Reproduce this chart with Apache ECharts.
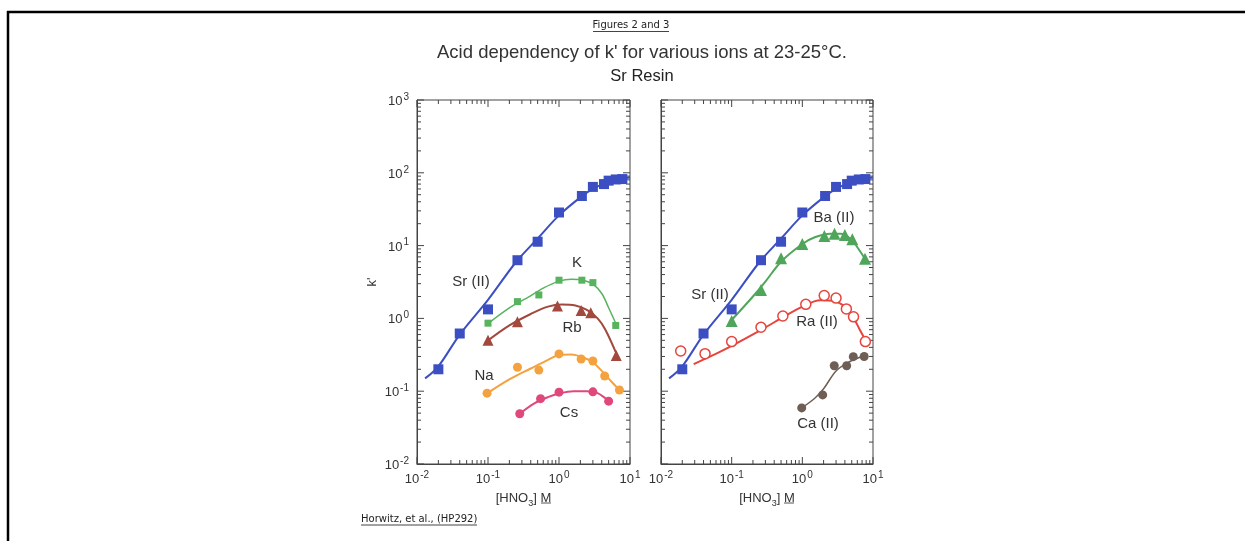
<!DOCTYPE html>
<html><head><meta charset="utf-8">
<script src="https://cdn.jsdelivr.net/npm/echarts@6/dist/echarts.min.js"></script>
<style>html,body{margin:0;padding:0;background:#fff}#c{width:1245px;height:541px}</style>
</head><body><div id="c"></div>
<script>
// ---------- data ----------
const srX = [0.02, 0.04, 0.1, 0.26, 0.5, 1, 2.1, 3, 4.3, 5, 6.3, 7.8];
const srY = [0.2, 0.62, 1.33, 6.3, 11.3, 28.5, 48, 64, 70, 78, 81, 82];
const srFit = [[0.013,0.15],[0.02,0.22],[0.04,0.6],[0.1,1.8],[0.25,6.0],[0.5,12.5],[1,26],[2,46],[3,60],[5,75],[10,86]];

const kX = [0.1, 0.26, 0.52, 1, 2.1, 3, 6.3];
const kY = [0.86, 1.7, 2.1, 3.35, 3.35, 3.1, 0.8];
const kFit = [[0.1,0.85],[0.2,1.4],[0.35,1.9],[0.6,2.6],[1,3.25],[1.5,3.45],[2.2,3.35],[3,2.95],[4,2.2],[5,1.4],[6.5,0.8]];

const rbX = [0.1, 0.26, 0.95, 2.05, 2.8, 6.4];
const rbY = [0.5, 0.9, 1.48, 1.28, 1.2, 0.31];
const rbFit = [[0.09,0.46],[0.2,0.8],[0.4,1.15],[0.7,1.45],[1.1,1.55],[1.7,1.5],[2.5,1.3],[3.5,1.0],[4.5,0.7],[6.5,0.32]];

const naX = [0.097, 0.26, 0.52, 1, 2.05, 3, 4.4, 7.1];
const naY = [0.094, 0.213, 0.195, 0.325, 0.277, 0.26, 0.162, 0.104];
const naFit = [[0.1,0.095],[0.2,0.145],[0.4,0.205],[0.7,0.27],[1,0.315],[1.5,0.32],[2.2,0.29],[3,0.25],[4,0.19],[5.5,0.135],[7,0.105]];

const csX = [0.28, 0.55, 1, 3, 5];
const csY = [0.049, 0.079, 0.097, 0.098, 0.073];
const csFit = [[0.28,0.049],[0.45,0.068],[0.7,0.083],[1,0.093],[1.6,0.1],[2.5,0.1],[3.5,0.094],[4.5,0.08],[5,0.073]];

const baX = [0.1, 0.26, 0.5, 1, 2.05, 2.85, 4, 5.1, 7.7];
const baY = [0.92, 2.45, 6.7, 10.5, 13.5, 14.5, 14, 12.2, 6.6];
const baFit = [[0.1,0.95],[0.2,2.0],[0.3,3.2],[0.5,6],[1,10.5],[1.5,13],[2.5,14.5],[3.5,14.5],[5,12],[6,9.5],[7.7,6.6]];

const raX = [0.019, 0.042, 0.1, 0.26, 0.53, 1.12, 2.04, 3, 4.2, 5.3, 7.8];
const raY = [0.356, 0.328, 0.48, 0.755, 1.08, 1.56, 2.06, 1.9, 1.35, 1.05, 0.48];
const raFit = [[0.029,0.235],[0.05,0.3],[0.1,0.42],[0.25,0.68],[0.5,1.0],[1,1.45],[1.8,1.78],[2.7,1.75],[4,1.45],[5.2,1.05],[6.5,0.7],[7.8,0.5]];

const caX = [0.98, 1.94, 2.83, 4.24, 5.26, 7.5];
const caY = [0.059, 0.089, 0.224, 0.224, 0.298, 0.30];
const caFit = [[0.98,0.059],[1.5,0.08],[2,0.108],[3,0.19],[4.5,0.25],[7.5,0.31]];

// axis ticks
const xMajorTicks = [0.01, 0.1, 1, 10];
const yMajorTicks = [0.01, 0.1, 1, 10, 100, 1000];
const xDecades = [0.01, 0.1, 1];
const yDecades = [0.01, 0.1, 1, 10, 100];
const minorSteps = [2, 3, 4, 5, 6, 7, 8, 9];

const pairs = (xs, ys) => xs.map((x, i) => [x, ys[i]]);
const minors = decs => decs.flatMap(d => minorSteps.map(m => +(d * m).toPrecision(3)));

const tickItems = [];
xMajorTicks.forEach(v => { tickItems.push([v, 1, 0, 1], [v, 1, 2, 1]); });
minors(xDecades).forEach(v => { tickItems.push([v, 1, 0, 0], [v, 1, 2, 0]); });
yMajorTicks.forEach(v => { tickItems.push([1, v, 1, 1], [1, v, 3, 1]); });
minors(yDecades).forEach(v => { tickItems.push([1, v, 1, 0], [1, v, 3, 0]); });

function tickRender(params, api) {
  const side = api.value(2), major = api.value(3);
  const L = major ? 7 : 4;
  let p, q;
  if (side === 0) { p = api.coord([api.value(0), 0.01]); q = [p[0], p[1] - L]; }
  else if (side === 2) { p = api.coord([api.value(0), 1000]); q = [p[0], p[1] + L]; }
  else if (side === 1) { p = api.coord([0.01, api.value(1)]); q = [p[0] + L, p[1]]; }
  else { p = api.coord([10, api.value(1)]); q = [p[0] - L, p[1]]; }
  return { type: 'line', shape: { x1: p[0], y1: p[1], x2: q[0], y2: q[1] }, style: { stroke: '#444', lineWidth: 1 } };
}

const FONT = 'Liberation Sans, Arial, sans-serif';
const powLabel = v => { const e = Math.round(Math.log10(v)); return '{b|10}{s|' + e + '}'; };
const labelRich = {
  b: { fontSize: 13, color: '#333', fontFamily: FONT, lineHeight: 16, verticalAlign: 'bottom' },
  s: { fontSize: 10, color: '#333', fontFamily: FONT, lineHeight: 16, verticalAlign: 'top', padding: [0, 0, 0, 1] }
};

function xAxisDef(gi) {
  return {
    type: 'log', logBase: 10, min: 0.01, max: 10, gridIndex: gi,
    axisLine: { show: true, lineStyle: { color: '#444', width: 1 } },
    axisTick: { show: false }, splitLine: { show: false }, minorTick: { show: false },
    axisLabel: { margin: 6, formatter: powLabel, rich: labelRich },
    name: '[HNO{sub|3}] {u|M}', nameLocation: 'middle', nameGap: 25,
    nameTextStyle: {
      fontSize: 13, color: '#333', fontFamily: FONT,
      rich: {
        sub: { fontSize: 9, color: '#333', fontFamily: FONT, verticalAlign: 'bottom', lineHeight: 19 },
        u: { fontSize: 13, color: '#333', fontFamily: FONT }
      }
    }
  };
}
function yAxisDef(gi, showLab) {
  return {
    type: 'log', logBase: 10, min: 0.01, max: 1000, gridIndex: gi,
    axisLine: { show: true, lineStyle: { color: '#444', width: 1 } },
    axisTick: { show: false }, splitLine: { show: false }, minorTick: { show: false },
    axisLabel: { show: showLab, margin: 8, formatter: powLabel, rich: labelRich },
    name: showLab ? "k'" : '', nameLocation: 'middle', nameGap: 38, nameRotate: 90,
    nameTextStyle: { fontSize: 13, color: '#333', fontFamily: FONT }
  };
}

function fitLine(data, color, width, gi) {
  return { type: 'line', data: data, smooth: 0.35, showSymbol: false, symbol: 'none', silent: true,
    xAxisIndex: gi, yAxisIndex: gi, lineStyle: { color: color, width: width }, z: 2 };
}
function marks(data, symbol, size, color, gi, extra) {
  return Object.assign({ type: 'scatter', data: data, symbol: symbol, symbolSize: size, silent: true,
    xAxisIndex: gi, yAxisIndex: gi, itemStyle: { color: color, opacity: 1 }, z: 3 }, extra || {});
}

const blue = '#3b4fc3', green = '#57b35e', brown = '#a2483c', orange = '#f4a240', pink = '#e0487a',
      ba = '#4fa65a', red = '#e6443c', gray = '#6e5e55';

const annot = (x, y, t) => ({ type: 'text', x: x, y: y, silent: true,
  style: { text: t, fontSize: 15, fontFamily: FONT, fill: '#333', align: 'center', verticalAlign: 'middle' } });
const hline = (x1, x2, y, w, c) => ({ type: 'line', silent: true, shape: { x1: x1, y1: y, x2: x2, y2: y }, style: { stroke: c || '#333', lineWidth: w || 1 } });

const chart = echarts.init(document.getElementById('c'), null, { renderer: 'canvas' });
chart.setOption({
  backgroundColor: '#fff',
  animation: false,
  grid: [
    { left: 417, top: 100, width: 213, height: 364, show: true, borderColor: '#444', borderWidth: 1, backgroundColor: '#fff' },
    { left: 661, top: 100, width: 212, height: 364, show: true, borderColor: '#444', borderWidth: 1, backgroundColor: '#fff' }
  ],
  xAxis: [xAxisDef(0), xAxisDef(1)],
  yAxis: [yAxisDef(0, true), yAxisDef(1, false)],
  series: [
    { type: 'custom', xAxisIndex: 0, yAxisIndex: 0, renderItem: tickRender, data: tickItems, silent: true, clip: false, z: 1 },
    { type: 'custom', xAxisIndex: 1, yAxisIndex: 1, renderItem: tickRender, data: tickItems, silent: true, clip: false, z: 1 },
    // left panel
    fitLine(srFit, blue, 2, 0), marks(pairs(srX, srY), 'rect', 10, blue, 0),
    fitLine(kFit, green, 1.5, 0), marks(pairs(kX, kY), 'rect', 7, green, 0),
    fitLine(rbFit, brown, 2, 0), marks(pairs(rbX, rbY), 'triangle', 11, brown, 0),
    fitLine(naFit, orange, 2, 0), marks(pairs(naX, naY), 'circle', 9, orange, 0),
    fitLine(csFit, pink, 2, 0), marks(pairs(csX, csY), 'circle', 9, pink, 0),
    // right panel
    fitLine(srFit, blue, 2, 1), marks(pairs(srX, srY), 'rect', 10, blue, 1),
    fitLine(baFit, ba, 2, 1), marks(pairs(baX, baY), 'triangle', 12, ba, 1),
    fitLine(raFit, red, 2, 1), marks(pairs(raX, raY), 'circle', 10, '#fff', 1,
      { itemStyle: { color: '#fff', borderColor: red, borderWidth: 1.5, opacity: 1 } }),
    fitLine(caFit, gray, 1.5, 1), marks(pairs(caX, caY), 'circle', 9, gray, 1)
  ],
  graphic: [
    // page frame
    { type: 'line', silent: true, shape: { x1: 7, y1: 12, x2: 1245, y2: 12 }, style: { stroke: '#000', lineWidth: 2.5 } },
    { type: 'line', silent: true, shape: { x1: 8, y1: 11, x2: 8, y2: 541 }, style: { stroke: '#000', lineWidth: 2.5 } },
    // captions
    { type: 'text', x: 631, y: 25, silent: true, style: { text: 'Figures 2 and 3', fontSize: 10, fontFamily: 'DejaVu Sans, sans-serif', fill: '#222', align: 'center', verticalAlign: 'middle' } },
    hline(593, 669, 31.5, 1, '#444'),
    { type: 'text', x: 642, y: 53, silent: true, style: { text: "Acid dependency of k' for various ions at 23-25\u00B0C.", fontSize: 18.5, fontFamily: FONT, fill: '#333', align: 'center', verticalAlign: 'middle' } },
    { type: 'text', x: 642, y: 76, silent: true, style: { text: 'Sr Resin', fontSize: 16.5, fontFamily: FONT, fill: '#222', align: 'center', verticalAlign: 'middle' } },
    { type: 'text', x: 361, y: 519, silent: true, style: { text: 'Horwitz, et al., (HP292)', fontSize: 10, fontFamily: 'DejaVu Sans, sans-serif', fill: '#222', align: 'left', verticalAlign: 'middle' } },
    hline(361, 477, 525, 1, '#444'),
    // underline of M in axis names
    hline(541, 551, 503, 1, '#555'),
    hline(784, 794, 503, 1, '#555'),
    // series labels
    annot(471, 282, 'Sr (II)'), annot(577, 263, 'K'), annot(572, 328, 'Rb'), annot(484, 376, 'Na'), annot(569, 413, 'Cs'),
    annot(834, 218, 'Ba (II)'), annot(710, 295, 'Sr (II)'), annot(817, 322, 'Ra (II)'), annot(818, 424, 'Ca (II)')
  ]
});
</script></body></html>
